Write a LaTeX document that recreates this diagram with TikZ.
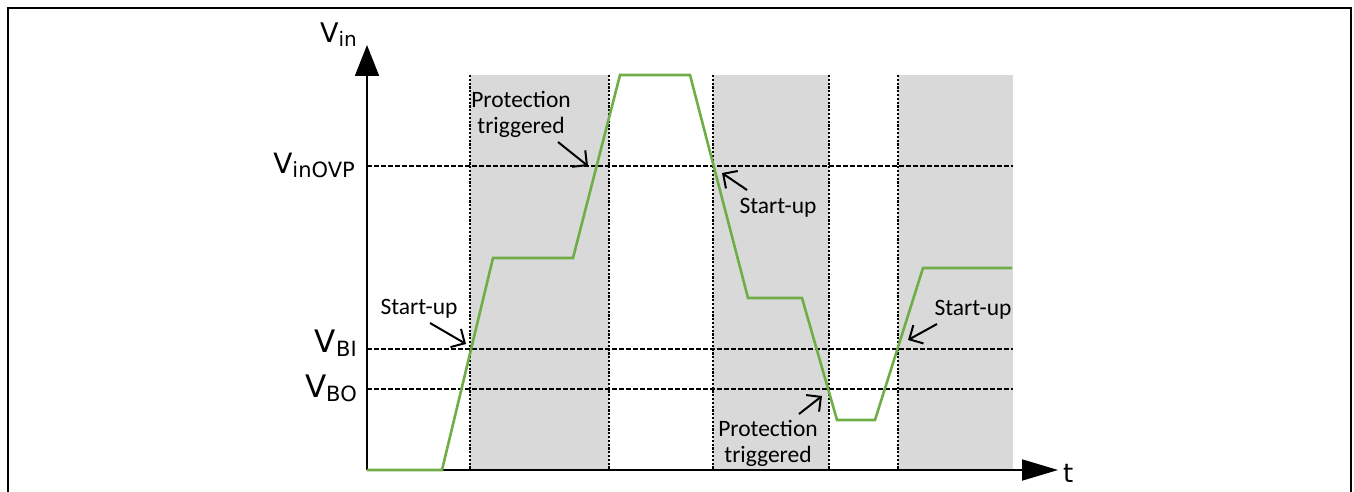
\documentclass[tikz,border=0pt]{standalone}
\usepackage{fontspec}
\setmainfont{Carlito}
\newfontfamily\vfont{DejaVu Sans}
\usetikzlibrary{arrows.meta}
\definecolor{sigGreen}{HTML}{70AD47}
\definecolor{bandgray}{HTML}{D9D9D9}
\newcommand\Vlab[3]{{\vfont\fontsize{#1}{#1}\selectfont V\raisebox{-4pt}{\fontsize{#2}{#2}\selectfont #3}}}
\newcommand\notefont{\fontsize{23.5}{26}\selectfont}
\begin{document}
\begin{tikzpicture}[x=1pt,y=-1pt,
  band/.style={fill=bandgray, draw=none},
  vdot/.style={line width=1.3pt, dash pattern=on 2.2pt off 1.6pt},
  hdash/.style={line width=1.3pt, dash pattern=on 4.5pt off 2.5pt},
  signal/.style={draw=sigGreen, line width=2.6pt, line join=miter},
  axis/.style={line width=1.8pt},
  note/.style={font=\notefont, align=center, inner sep=0pt},
  pointer/.style={line width=2pt, -{Straight Barb[length=10.5pt,width=21pt]}},
  vlabel/.style={inner sep=0pt, anchor=base east}
]
\useasboundingbox (0,0) rectangle (1354,492);
\clip (0,0) rectangle (1354,492);
\draw[line width=2pt] (8,8) rectangle (1351,505);

% shaded bands
\fill[band] (470,75) rectangle (609,470);
\fill[band] (713,75) rectangle (829,470);
\fill[band] (898,75) rectangle (1013,470);

% vertical dotted markers
\foreach \x in {470,609,713,829,898} \draw[vdot] (\x,75) -- (\x,470);

% horizontal threshold lines
\foreach \y in {166,349,389} \draw[hdash] (367,\y) -- (1013,\y);

% axes
\coordinate (O) at (367,470);
\coordinate (ytop) at (367,45);
\coordinate (xend) at (1058,470);
\draw[axis, -{Triangle[length=31pt,width=24pt]}] (O) -- (ytop);
\draw[axis, -{Triangle[length=36pt,width=21pt]}] (O) -- (xend);

% signal
\draw[signal] (367,470) -- (442,470) -- (493,258) -- (573,258) -- (620,75) -- (690,75)
  -- (748,298) -- (802,298) -- (837,420) -- (875,420) -- (923,268) -- (1012,268);

% axis labels
\node[vlabel] (vin) at (357,43) {\Vlab{27}{20}{in}};
\node[vlabel] (vovp) at (355,173) {\Vlab{28}{21}{inOVP}};
\node[vlabel] (vbi) at (357,352) {\Vlab{31}{21}{BI}};
\node[vlabel] (vbo) at (357,397) {\Vlab{31}{21}{BO}};
\node[anchor=base west, inner sep=0pt, font=\vfont\fontsize{26}{26}\selectfont] (tlab) at (1063,482) {t};

% notes
\node[note, anchor=base] (su1) at (419,314) {Start-up};
\node[note] (pt1) at (521,114) {Protection\\triggered};
\node[note, anchor=base] (su2) at (778,213) {Start-up};
\node[note] (pt2) at (768,443) {Protection\\triggered};
\node[note, anchor=base] (su3) at (973,315) {Start-up};

% pointers
\coordinate (su1s) at (430,323);  \coordinate (su1t) at (466,344);
\coordinate (pt1s) at (558,142);  \coordinate (pt1t) at (588,166);
\coordinate (su2s) at (747,190);  \coordinate (su2t) at (722,173);
\coordinate (pt2s) at (799,414);  \coordinate (pt2t) at (822,396);
\coordinate (su3s) at (937,324);  \coordinate (su3t) at (908,340);
\draw[pointer] (su1s) -- (su1t);
\draw[pointer] (pt1s) -- (pt1t);
\draw[pointer] (su2s) -- (su2t);
\draw[pointer] (pt2s) -- (pt2t);
\draw[pointer] (su3s) -- (su3t);
\end{tikzpicture}
\end{document}
